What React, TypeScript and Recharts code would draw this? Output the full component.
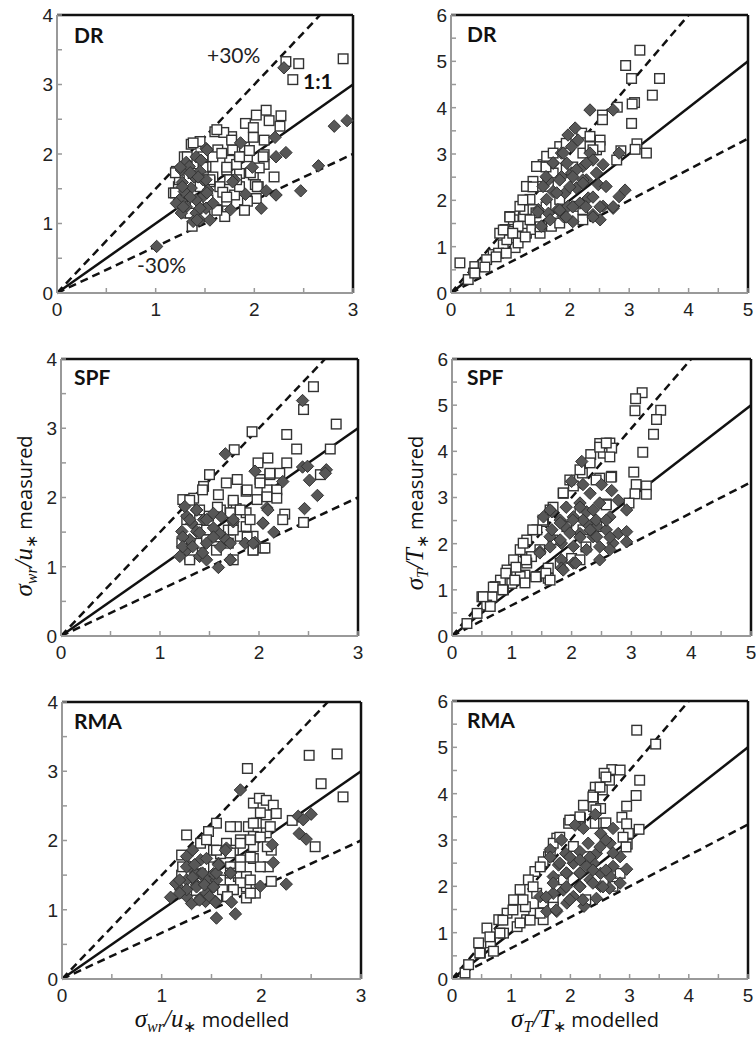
import React from 'react';
import { ScatterChart, Scatter, XAxis, YAxis, ReferenceLine } from 'recharts';

// axis ticks (major = integers, minor = halves)
const windXTicks = [0, 0.5, 1, 1.5, 2, 2.5, 3];
const windYTicks = [0, 0.5, 1, 1.5, 2, 2.5, 3, 3.5, 4];
const tempXTicks = [0, 0.5, 1, 1.5, 2, 2.5, 3, 3.5, 4, 4.5, 5];
const tempYTicks = [0, 0.5, 1, 1.5, 2, 2.5, 3, 3.5, 4, 4.5, 5, 5.5, 6];

// reference lines: 1:1 and the two dashed bounds
const windDiag = [[0, 0], [3, 3]];
const windUpper = [[0, 0], [2.667, 4]];
const windLower = [[0, 0], [3, 2]];
const tempDiag = [[0, 0], [5, 5]];
const tempUpper = [[0, 0], [4, 6]];
const tempLower = [[0, 0], [5, 3.333]];

// DR, sigma_wr/u*
const drWindSq = [
  [2.32, 3.33], [2.45, 3.3], [2.39, 3.07], [2.9, 3.37],
  [2.12, 2.63], [2.02, 2.56], [2.27, 2.55], [2.15, 2.48], [2.26, 2.4], [1.91, 2.44], [1.99, 2.38],
  [1.77, 2.25], [1.6, 2.32], [1.69, 2.31], [1.45, 2.18], [1.36, 2.14], [1.99, 2.24], [1.9, 2.1],
  [2.1, 2.2], [2.1, 1.99], [2.1, 1.85], [2.2, 1.67], [1.9, 1.2], [2.01, 1.56], [2.02, 1.36],
  [1.29, 1.96], [1.21, 1.75], [1.23, 1.53], [1.31, 1.15], [1.37, 0.96], [1.63, 1.2], [1.72, 1.32],
  [1.63, 2.06], [1.75, 1.91], [1.51, 1.82], [1.58, 1.67], [1.85, 1.72], [1.8, 1.41], [1.93, 1.96],
  [1.45, 1.53], [1.65, 1.53], [1.72, 1.77], [1.53, 1.34], [1.18, 1.44], [1.26, 1.29], [1.99, 1.7],
  [2.04, 1.53], [1.24, 1.63], [1.38, 1.72], [1.31, 1.44], [1.48, 1.96], [1.78, 2.06], [1.85, 1.53],
  [1.93, 1.32], [1.58, 1.96], [1.75, 1.63], [1.68, 1.45], [1.55, 1.6], [1.82, 1.85], [1.4, 1.25],
  [1.95, 2.05], [1.7, 1.1], [2.05, 1.8], [1.5, 1.1],
  [1.62, 2.35], [1.77, 2.2], [1.38, 2.16], [1.32, 1.96], [1.2, 1.73], [1.2, 1.44], [1.55, 1.63],
  [1.72, 1.81], [1.82, 1.63], [1.96, 1.73], [2.09, 1.96], [2.03, 1.53], [1.9, 1.19], [1.72, 1.38],
  [1.62, 1.19], [1.35, 1.15], [1.85, 1.96], [1.67, 2.01], [1.48, 1.81],
];
const drWindDm = [
  [2.3, 3.24], [2.81, 2.4], [2.94, 2.48], [2.65, 1.83], [2.47, 1.47], [2.32, 2.02], [2.22, 1.96],
  [2.21, 2.24], [2.07, 1.22], [2.22, 1.41], [2.12, 1.47], [1.98, 1.81], [1.91, 1.42], [1.86, 2.16],
  [1.8, 1.63], [1.76, 1.2], [1.01, 0.67],
  [1.26, 1.77], [1.31, 1.88], [1.27, 1.59], [1.41, 1.96], [1.46, 1.91], [1.51, 2.08], [1.45, 1.75],
  [1.39, 1.67], [1.34, 1.82], [1.24, 1.34], [1.36, 1.51], [1.31, 1.24], [1.41, 1.15], [1.45, 1.05],
  [1.55, 1.05], [1.26, 1.15], [1.21, 1.29], [1.48, 1.39], [1.53, 1.48], [1.58, 1.29], [1.48, 1.63],
  [1.29, 1.46], [1.41, 1.34], [1.51, 1.22], [1.38, 1.03], [1.51, 1.63], [1.45, 1.22],
  [1.27, 1.53], [1.35, 1.38], [1.28, 1.24], [1.42, 1.05], [1.52, 1.44], [1.43, 1.67], [1.35, 1.73],
  [1.52, 2.06], [1.25, 1.81], [1.78, 1.6],
];

// DR, sigma_T/T*
const drTempSq = [
  [3.18, 5.24], [2.94, 4.91], [3.04, 4.63], [3.51, 4.63], [3.39, 4.27], [3.09, 4.11], [3.05, 4.08],
  [2.8, 4.01], [2.55, 3.84], [2.55, 3.74], [3.04, 3.66], [3.13, 3.22], [3.1, 3.1], [3.29, 3.02],
  [2.86, 3.07], [2.79, 2.87],
  [0.15, 0.65], [0.4, 0.57], [0.54, 0.61], [0.71, 0.83], [0.88, 1.04], [0.91, 1.37], [1.05, 1.33],
  [1.05, 1.58], [1.22, 1.65], [1.08, 0.98], [0.94, 1.15], [1.16, 1.22], [1.27, 1.29], [1.36, 1.37],
  [1.24, 1.8], [1.33, 2.02], [1.44, 2.3], [1.38, 2.41], [1.55, 2.77], [1.66, 2.84], [1.83, 3.16],
  [1.94, 3.23], [2.2, 3.45], [2.34, 3.38], [2.51, 3.3], [2.45, 3.09], [2.22, 3.02], [1.94, 2.66],
  [1.72, 2.59], [1.64, 2.3], [1.83, 2.02], [2.11, 1.87], [2.22, 1.8], [1.69, 1.44], [1.5, 1.29],
  [1.38, 1.8], [1.13, 1.44], [0.8, 0.86], [0.6, 0.72], [0.38, 0.43], [0.29, 0.29], [1.61, 2.95],
  [1.44, 2.73], [1.27, 2.3], [1.16, 1.87], [0.99, 1.65], [0.82, 1.29], [2.34, 3.16], [2.51, 3.16],
  [0.88, 1.36], [1.04, 1.29], [1.13, 1.08], [1.25, 1.21], [0.93, 0.86], [0.76, 0.78], [0.57, 0.56],
  [0.4, 0.43], [1.21, 2.01], [1.38, 2.29], [1.6, 2.72], [1.72, 3.02], [1.43, 1.73], [1.6, 1.86],
  [1.83, 1.51], [2.22, 1.58], [2.39, 3.09], [2.05, 2.72], [1.33, 1.58], [1.5, 1.43], [0.99, 1.64],
];
const drTempDm = [
  [2.34, 3.95], [2.73, 3.95], [2.83, 3.02], [2.93, 2.22], [2.83, 2.08], [2.73, 1.83], [2.51, 1.58],
  [2.09, 3.56], [1.97, 3.41], [2.14, 3.3], [1.86, 3.02], [1.72, 2.8], [2.03, 3.16], [2.34, 3.02],
  [2.39, 2.87], [2.22, 2.73], [2.03, 2.59], [1.86, 2.51], [1.64, 2.44], [1.55, 2.3], [1.72, 2.19],
  [1.92, 2.16], [2.11, 2.27], [2.28, 2.44], [2.45, 2.59], [2.56, 2.77], [2.48, 2.34], [2.61, 2.3],
  [2.31, 2.05], [2.17, 1.94], [1.97, 1.87], [1.8, 1.8], [1.64, 1.72], [1.47, 1.8], [1.89, 1.65],
  [2.05, 1.54], [1.52, 1.44], [2.39, 1.69], [2.22, 2.44], [1.95, 2.8], [2.11, 2.66], [1.78, 2.16],
  [1.61, 2.02], [2.28, 2.8], [2.56, 1.87],
  [1.89, 3.02], [1.72, 2.81], [1.6, 2.51], [1.83, 2.44], [2.0, 2.29], [2.22, 2.37], [2.39, 2.07],
  [2.51, 1.86], [2.27, 1.86], [2.05, 1.86], [1.83, 1.79], [1.46, 1.75], [1.67, 1.58], [1.94, 1.64],
  [2.39, 1.64], [2.05, 2.51], [2.73, 1.86],
];

// SPF, sigma_wr/u*
const spfWindSq = [
  [2.55, 3.6], [2.45, 3.27], [2.78, 3.06], [2.28, 2.91], [2.38, 2.7], [2.72, 2.7], [1.93, 2.95],
  [1.75, 2.69], [2.09, 2.57], [1.99, 2.5], [1.5, 2.33], [2.28, 2.5], [2.11, 2.33], [2.21, 2.35],
  [1.67, 2.21], [1.78, 2.26], [1.59, 2.04], [1.44, 2.16], [1.34, 1.99], [1.23, 1.97], [2.26, 1.76],
  [2.45, 1.64], [2.62, 2.33], [2.08, 2.11], [1.98, 1.97], [1.87, 2.09], [1.74, 1.92], [1.61, 1.82],
  [1.49, 1.73], [1.94, 1.44], [2.04, 1.27], [1.94, 1.24], [1.54, 1.44], [1.4, 1.34], [1.3, 1.14],
  [1.74, 1.1], [1.87, 1.78], [1.87, 1.58], [1.74, 1.63], [1.81, 1.44], [2.01, 2.26], [2.18, 2.11],
  [1.47, 1.53], [1.69, 1.53], [1.57, 1.24], [1.27, 1.68], [1.22, 1.34], [1.4, 1.82], [1.69, 1.34],
  [1.77, 1.84],
  [1.3, 1.96], [1.43, 2.11], [1.58, 1.86], [1.74, 1.96], [1.88, 2.11], [2.01, 2.21], [2.08, 2.01],
  [2.18, 1.99], [1.91, 1.68], [1.74, 1.53], [1.61, 1.43], [1.47, 1.39], [1.33, 1.2], [1.3, 1.1],
  [1.88, 1.43], [1.94, 1.24], [2.06, 1.27], [1.71, 1.78], [1.4, 1.68], [1.81, 1.82], [2.11, 2.35],
  [2.24, 1.68],
];
const spfWindDm = [
  [2.44, 3.4], [1.66, 2.63], [1.96, 2.38], [2.44, 2.44], [2.49, 2.45], [2.51, 2.25], [2.68, 2.4],
  [2.67, 2.35], [2.59, 2.03], [2.46, 1.84], [2.24, 2.23], [2.15, 1.5], [2.08, 1.85], [2.04, 1.63],
  [1.96, 1.35], [1.71, 1.1], [1.59, 0.99], [1.6, 1.48], [1.54, 1.56], [1.47, 1.34], [1.37, 1.82],
  [1.27, 1.73], [1.22, 1.51], [1.3, 1.39], [1.4, 1.15], [1.27, 1.24], [1.37, 1.51], [1.44, 1.68],
  [1.2, 1.15], [1.47, 1.1], [1.74, 1.65], [1.86, 1.34], [1.67, 1.39], [1.54, 1.77], [1.32, 1.63],
  [1.25, 1.87],
  [1.23, 1.43], [1.23, 1.29], [1.33, 1.29], [1.4, 1.49], [1.3, 1.68], [1.37, 1.82], [1.47, 1.68],
  [1.54, 1.43], [1.61, 1.29], [1.71, 1.34], [1.62, 1.72], [1.74, 1.68], [1.94, 1.34], [2.04, 1.63],
  [2.09, 1.82], [1.43, 1.2], [1.71, 1.1],
];

// SPF, sigma_T/T*
const spfTempSq = [
  [3.18, 5.27], [3.07, 5.14], [3.06, 4.88], [3.49, 4.89], [3.42, 4.69], [3.37, 4.37], [3.19, 3.98],
  [3.04, 3.55], [3.08, 3.28], [3.25, 3.25], [3.06, 3.08], [3.25, 3.07], [2.96, 2.88], [2.64, 4.18],
  [2.47, 4.17], [2.53, 3.96], [2.67, 4.07], [2.32, 3.93], [2.18, 3.53], [2.47, 3.42], [2.67, 3.46],
  [2.58, 2.86], [2.03, 3.25], [1.86, 3.09], [1.64, 2.73], [1.53, 2.48], [1.42, 2.3], [1.25, 2.08],
  [1.14, 1.87], [1.03, 1.65], [0.92, 1.43], [0.81, 1.21], [0.67, 0.85], [0.5, 0.85], [0.58, 0.67],
  [0.42, 0.49], [0.25, 0.27], [1.0, 1.14], [1.22, 1.32], [1.42, 1.29], [1.61, 1.25], [1.61, 1.47],
  [1.81, 1.58], [2.0, 1.68], [2.19, 2.3], [2.42, 2.37], [1.69, 2.08], [1.33, 1.72], [1.14, 1.29],
  [0.86, 1.0], [0.72, 1.07], [0.64, 0.64], [1.25, 1.58], [1.47, 1.87], [1.92, 2.37], [2.14, 2.66],
  [0.52, 0.85], [0.69, 1.06], [0.85, 1.0], [0.9, 1.36], [1.07, 1.49], [1.24, 1.65], [1.05, 1.21],
  [1.22, 1.15], [1.4, 1.28], [1.57, 1.36], [1.64, 1.21], [1.19, 2.01], [1.35, 2.3], [1.52, 2.51],
  [1.69, 2.79], [1.86, 3.1], [1.97, 3.38], [2.14, 3.6], [2.31, 3.75], [2.47, 4.09], [2.58, 4.18],
  [2.64, 3.88], [2.66, 3.44], [2.41, 3.38], [2.58, 2.84], [2.14, 1.65], [2.24, 1.93],
];
const spfTempDm = [
  [2.17, 3.78], [2.0, 3.35], [2.19, 3.28], [2.5, 3.28], [2.31, 3.09], [2.67, 3.15], [2.78, 2.94],
  [2.92, 2.73], [1.67, 2.69], [1.53, 2.58], [1.81, 2.51], [2.03, 2.58], [2.25, 2.69], [2.47, 2.88],
  [2.64, 2.58], [2.78, 2.22], [2.92, 2.26], [2.92, 2.04], [2.69, 2.01], [2.64, 1.87], [2.47, 1.65],
  [2.25, 1.87], [2.03, 1.94], [1.83, 2.01], [1.64, 2.15], [1.47, 1.83], [1.83, 1.65], [2.03, 1.58],
  [1.83, 1.47], [2.36, 2.15], [2.14, 2.22], [2.42, 2.37], [1.89, 2.37], [2.25, 2.44], [2.14, 2.88],
  [2.42, 2.15], [2.58, 2.3], [1.67, 2.3],
  [1.47, 1.8], [1.64, 1.93], [1.81, 2.08], [1.97, 2.23], [2.14, 2.14], [2.31, 2.3], [2.41, 2.51],
  [2.19, 2.51], [2.02, 2.51], [1.81, 2.45], [1.64, 2.73], [1.91, 2.79], [2.14, 2.79], [2.36, 2.73],
  [2.58, 2.51], [2.64, 2.14], [2.47, 1.93], [1.86, 1.43], [2.07, 1.58],
];

// RMA, sigma_wr/u*
const rmaWindSq = [
  [2.48, 3.23], [2.76, 3.25], [1.86, 3.04], [2.6, 2.82], [2.82, 2.63], [2.54, 1.91], [2.31, 2.29],
  [1.92, 2.54], [1.98, 2.61], [2.05, 2.58], [2.12, 2.51], [2.15, 2.39], [2.05, 2.37], [1.95, 2.25],
  [1.87, 2.2], [1.75, 2.2], [1.69, 2.2], [1.55, 2.25], [1.47, 2.13], [1.25, 2.08], [1.39, 1.96],
  [1.52, 1.86], [1.65, 1.96], [1.79, 2.01], [1.92, 2.06], [2.05, 2.11], [2.1, 1.86], [2.07, 1.62],
  [2.1, 1.41], [1.94, 1.24], [1.85, 1.17], [1.77, 1.48], [1.69, 1.62], [1.59, 1.43], [1.72, 1.29],
  [1.85, 1.48], [1.92, 1.74], [1.79, 1.72], [1.2, 1.79], [1.2, 1.5], [1.25, 1.24], [1.39, 1.52],
  [1.52, 1.62], [1.59, 1.81], [1.92, 1.91], [1.72, 1.86], [1.85, 1.33], [1.65, 1.19],
  [1.21, 1.62], [1.25, 1.33], [1.31, 1.14], [1.45, 2.01], [1.55, 1.86], [1.69, 1.82], [1.79, 1.96],
  [1.89, 2.01], [1.99, 2.05], [2.06, 1.91], [1.89, 1.76], [1.79, 1.62], [1.69, 1.53], [1.79, 1.39],
  [1.89, 1.43], [1.99, 1.62], [1.89, 1.24], [1.72, 1.29], [1.61, 1.29], [1.66, 1.19], [2.09, 2.2],
  [1.99, 2.4], [1.92, 2.25],
];
const rmaWindDm = [
  [1.79, 2.73], [2.37, 2.35], [2.42, 2.3], [2.5, 2.38], [2.38, 2.1], [2.45, 2.02], [2.11, 1.94],
  [2.12, 1.68], [2.25, 1.37], [1.99, 1.34], [1.55, 0.88], [1.74, 0.94], [1.7, 1.11], [1.69, 1.53],
  [1.65, 1.89], [1.57, 1.67], [1.09, 1.18], [1.31, 1.86], [1.39, 1.72], [1.45, 1.74], [1.25, 1.77],
  [1.28, 1.62], [1.39, 1.52], [1.35, 1.36], [1.25, 1.43], [1.19, 1.29], [1.25, 1.19], [1.3, 1.09],
  [1.39, 1.17], [1.45, 1.24], [1.52, 1.33], [1.45, 1.43], [1.55, 1.43], [1.44, 1.12], [1.54, 1.12],
  [1.34, 1.52], [1.52, 1.52], [1.14, 1.38],
  [1.18, 1.43], [1.25, 1.29], [1.35, 1.33], [1.43, 1.36], [1.52, 1.33], [1.31, 1.47], [1.41, 1.53],
  [1.25, 1.62], [1.33, 1.65], [1.55, 1.53], [1.18, 1.24], [1.38, 1.14], [1.48, 1.19], [1.57, 1.65],
  [1.64, 1.86], [1.69, 1.53], [1.54, 1.11],
];

// RMA, sigma_T/T*
const rmaTempSq = [
  [3.12, 5.37], [3.44, 5.07], [3.17, 4.29], [3.11, 3.96], [2.95, 3.73], [2.87, 3.49], [2.95, 3.35],
  [3.16, 3.23], [2.98, 3.14], [2.96, 2.91], [2.7, 4.52], [2.57, 4.44], [2.66, 4.29], [2.54, 4.08],
  [2.42, 4.14], [2.39, 3.97], [2.39, 3.72], [2.51, 3.68], [2.22, 3.75], [2.42, 3.36], [2.56, 3.36],
  [2.17, 3.47], [2.08, 3.43], [1.97, 3.36], [1.77, 3.04], [1.71, 2.93], [1.63, 2.64], [1.54, 2.53],
  [1.4, 2.32], [1.29, 2.14], [1.15, 1.93], [1.04, 1.71], [0.93, 1.42], [0.79, 1.28], [0.59, 1.1],
  [0.45, 0.78], [0.65, 0.78], [0.7, 0.6], [0.22, 0.13], [0.28, 0.31], [0.48, 0.56], [0.87, 0.99],
  [1.1, 1.13], [1.26, 1.28], [1.38, 1.42], [1.54, 1.28], [1.54, 1.56], [1.71, 1.71], [2.72, 2.0],
  [2.84, 2.28], [1.24, 1.56], [1.43, 1.85], [1.88, 2.14], [2.05, 2.86], [2.28, 2.64],
  [0.47, 0.56], [0.64, 0.91], [0.81, 0.99], [0.86, 1.27], [1.03, 1.49], [1.2, 1.71], [1.15, 1.21],
  [1.32, 1.27], [1.49, 1.42], [1.54, 1.64], [1.37, 1.99], [1.49, 2.42], [1.66, 2.72], [1.82, 3.06],
  [1.99, 3.43], [2.16, 3.5], [2.38, 3.93], [2.5, 4.14], [2.6, 4.36], [2.84, 4.51], [2.43, 3.65],
  [2.6, 3.37], [2.89, 3.06], [2.94, 2.85], [1.71, 1.55], [2.26, 1.71],
];
const rmaTempDm = [
  [2.42, 3.55], [2.08, 3.32], [2.22, 3.25], [2.51, 3.14], [2.72, 3.25], [2.67, 2.93], [2.3, 2.93],
  [1.85, 3.0], [1.66, 2.79], [1.92, 2.71], [2.16, 2.75], [2.44, 2.71], [2.84, 2.64], [2.72, 2.43],
  [2.95, 2.37], [2.84, 2.07], [2.66, 1.96], [2.44, 1.74], [2.23, 1.57], [2.05, 1.78], [1.88, 1.92],
  [1.71, 1.85], [1.49, 1.78], [1.6, 1.46], [1.77, 1.46], [1.94, 1.64], [2.16, 2.0], [2.33, 2.14],
  [2.16, 2.28], [1.94, 2.28], [1.71, 2.21], [2.51, 2.28], [2.39, 2.5], [2.05, 2.5], [2.28, 2.43],
  [1.8, 2.46], [2.51, 2.0], [2.67, 2.21],
  [1.66, 2.63], [1.82, 2.5], [1.99, 2.63], [2.16, 2.57], [2.33, 2.63], [2.5, 2.85], [2.6, 3.0],
  [2.72, 2.72], [2.6, 2.35], [2.38, 2.35], [2.16, 2.29], [1.93, 2.29], [1.71, 2.07], [1.93, 1.99],
  [2.16, 1.99], [2.38, 2.07], [2.55, 1.99], [1.99, 1.71], [2.21, 1.71], [1.76, 1.49], [1.59, 1.77],
];

const toPts = (arr: number[][]) => arr.map(([x, y]) => ({ x, y }));

const SquareShape = (props: any) => {
  const { cx, cy } = props;
  if (cx == null || cy == null) return null;
  return <rect x={cx - 4.8} y={cy - 4.8} width={9.6} height={9.6} fill="#fff" stroke="#333" strokeWidth={1.4} />;
};

const DiamondShape = (props: any) => {
  const { cx, cy } = props;
  if (cx == null || cy == null) return null;
  const r = 6.2;
  return (
    <polygon
      points={`${cx},${cy - r} ${cx + r},${cy} ${cx},${cy + r} ${cx - r},${cy}`}
      fill="#575757"
      stroke="#333"
      strokeWidth={1}
    />
  );
};

const YTick = (props: any) => {
  const { x, y, payload } = props;
  const major = Number.isInteger(payload.value);
  return (
    <g>
      <line x1={x} x2={x + 5} y1={y} y2={y} stroke="#999" strokeWidth={1.5} />
      {major && (
        <text x={x - 4} y={y} dy="0.36em" textAnchor="end" fontSize={19} fill="#222" fontFamily="'Liberation Sans', Arial, sans-serif">
          {payload.value}
        </text>
      )}
    </g>
  );
};

const XTick = (props: any) => {
  const { x, y, payload } = props;
  const major = Number.isInteger(payload.value);
  return (
    <g>
      <line x1={x} x2={x} y1={y} y2={y - 5} stroke="#999" strokeWidth={1.5} />
      {major && (
        <text x={x} y={y + 23} textAnchor="middle" fontSize={19} fill="#222" fontFamily="'Liberation Sans', Arial, sans-serif">
          {payload.value}
        </text>
      )}
    </g>
  );
};

const PAD_L = 50;
const PAD_T = 10;
const PAD_R = 12;
const PAD_B = 35;

interface PanelProps {
  px: number;
  py: number;
  pw: number;
  ph: number;
  xMax: number;
  yMax: number;
  xTicks: number[];
  yTicks: number[];
  squares: number[][];
  diamonds: number[][];
  diag: number[][];
  upper: number[][];
  lower: number[][];
}

const Panel: React.FC<PanelProps> = ({ px, py, pw, ph, xMax, yMax, xTicks, yTicks, squares, diamonds, diag, upper, lower }) => (
  <div style={{ position: 'absolute', left: px - PAD_L, top: py - PAD_T }}>
    <ScatterChart
      width={pw + PAD_L + PAD_R}
      height={ph + PAD_T + PAD_B}
      margin={{ top: PAD_T, right: PAD_R, left: 0, bottom: 0 }}
      style={{ overflow: 'visible' }}
    >
      <XAxis
        type="number"
        dataKey="x"
        domain={[0, xMax]}
        ticks={xTicks}
        interval={0}
        height={PAD_B}
        tickSize={0}
        tickMargin={0}
        tickLine={false}
        tick={<XTick />}
        axisLine={{ stroke: '#999', strokeWidth: 2 }}
      />
      <YAxis
        type="number"
        dataKey="y"
        domain={[0, yMax]}
        ticks={yTicks}
        interval={0}
        width={PAD_L}
        tickSize={0}
        tickMargin={0}
        tickLine={false}
        tick={<YTick />}
        axisLine={{ stroke: '#999', strokeWidth: 2 }}
      />
      <ReferenceLine y={yMax} stroke="#111" strokeWidth={2.5} />
      <ReferenceLine x={xMax} stroke="#111" strokeWidth={2.5} />
      <ReferenceLine segment={toPts(diag)} stroke="#111" strokeWidth={2.5} />
      <ReferenceLine segment={toPts(upper)} stroke="#111" strokeWidth={2.5} strokeDasharray="8 5" />
      <ReferenceLine segment={toPts(lower)} stroke="#111" strokeWidth={2.5} strokeDasharray="8 5" />
      <Scatter data={toPts(squares)} shape={SquareShape} isAnimationActive={false} />
      <Scatter data={toPts(diamonds)} shape={DiamondShape} isAnimationActive={false} />
    </ScatterChart>
  </div>
);

const sans = "Lato, 'Open Sans', sans-serif";
const titleSans = "'Open Sans', Lato, sans-serif";
const serif = "'Liberation Serif', 'Times New Roman', serif";

const Title: React.FC<{ sub: string; den: string; word: string }> = ({ sub, den, word }) => (
  <>
    <tspan fontFamily={serif} fontStyle="italic" fontSize={25}>σ</tspan>
    <tspan fontFamily={serif} fontStyle="italic" fontSize={16} dy={5}>{sub}</tspan>
    <tspan fontFamily={serif} fontStyle="italic" fontSize={25} dy={-5}>/{den}</tspan>
    <tspan fontFamily={serif} fontSize={16} dy={5}>∗</tspan>
    <tspan fontFamily={titleSans} fontSize={20} dy={-5}> {word}</tspan>
  </>
);

const App: React.FC = () => (
  <div style={{ position: 'absolute', left: 0, top: 0, width: 756, height: 1042, background: '#fff' }}>
    <Panel px={57} py={15} pw={296} ph={278} xMax={3} yMax={4} xTicks={windXTicks} yTicks={windYTicks}
      squares={drWindSq} diamonds={drWindDm} diag={windDiag} upper={windUpper} lower={windLower} />
    <Panel px={451} py={15} pw={297} ph={278} xMax={5} yMax={6} xTicks={tempXTicks} yTicks={tempYTicks}
      squares={drTempSq} diamonds={drTempDm} diag={tempDiag} upper={tempUpper} lower={tempLower} />
    <Panel px={61} py={359} pw={297} ph={277} xMax={3} yMax={4} xTicks={windXTicks} yTicks={windYTicks}
      squares={spfWindSq} diamonds={spfWindDm} diag={windDiag} upper={windUpper} lower={windLower} />
    <Panel px={452} py={359} pw={299} ph={277} xMax={5} yMax={6} xTicks={tempXTicks} yTicks={tempYTicks}
      squares={spfTempSq} diamonds={spfTempDm} diag={tempDiag} upper={tempUpper} lower={tempLower} />
    <Panel px={62} py={702} pw={299} ph={277} xMax={3} yMax={4} xTicks={windXTicks} yTicks={windYTicks}
      squares={rmaWindSq} diamonds={rmaWindDm} diag={windDiag} upper={windUpper} lower={windLower} />
    <Panel px={452} py={701} pw={296} ph={278} xMax={5} yMax={6} xTicks={tempXTicks} yTicks={tempYTicks}
      squares={rmaTempSq} diamonds={rmaTempDm} diag={tempDiag} upper={tempUpper} lower={tempLower} />

    <svg width={756} height={1042} style={{ position: 'absolute', left: 0, top: 0, pointerEvents: 'none' }}>
      {/* panel labels */}
      <g fontFamily={sans} fontWeight={700} fontSize={21} fill="#111">
        <text x={74} y={43}>DR</text>
        <text x={467} y={42}>DR</text>
        <text x={74} y={385}>SPF</text>
        <text x={467} y={385}>SPF</text>
        <text x={74} y={729}>RMA</text>
        <text x={467} y={728}>RMA</text>
      </g>
      {/* bound annotations */}
      <g fontFamily={sans} fontSize={21} fill="#222">
        <text x={207} y={63}>+30%</text>
        <text x={137} y={273}>-30%</text>
        <text x={303} y={89} fontWeight={700} fill="#111">1:1</text>
      </g>
      {/* axis titles */}
      <text transform="translate(32,516) rotate(-90)" textAnchor="middle" fill="#111">
        <Title sub="wr" den="u" word="measured" />
      </text>
      <text transform="translate(423,513) rotate(-90)" textAnchor="middle" fill="#111">
        <Title sub="T" den="T" word="measured" />
      </text>
      <text x={212} y={1027} textAnchor="middle" fill="#111">
        <Title sub="wr" den="u" word="modelled" />
      </text>
      <text x={585} y={1027} textAnchor="middle" fill="#111">
        <Title sub="T" den="T" word="modelled" />
      </text>
    </svg>
  </div>
);

export default App;
